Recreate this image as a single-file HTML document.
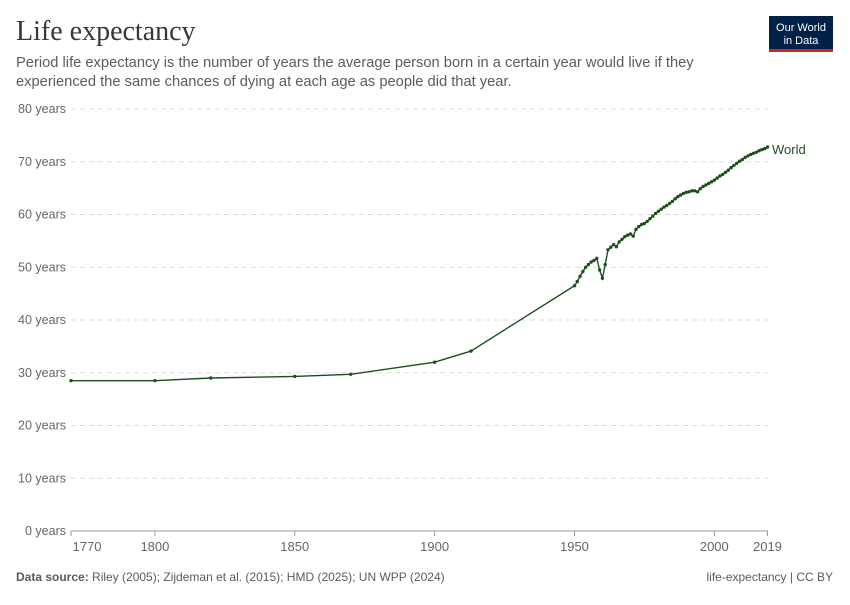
<!DOCTYPE html>
<html><head><meta charset="utf-8"><style>
body{margin:0;background:#fff;width:850px;height:600px;overflow:hidden;font-family:"Liberation Sans",sans-serif}
</style></head><body>
<svg id="s" width="850" height="600" xmlns="http://www.w3.org/2000/svg" font-family="Liberation Sans, sans-serif">
<text x="16" y="40" font-family="Liberation Serif, serif" font-size="28" fill="#383838">Life expectancy</text>
<text x="16" y="67" font-size="14.7" fill="#5b5b5b">Period life expectancy is the number of years the average person born in a certain year would live if they</text>
<text x="16" y="86" font-size="14.7" fill="#5b5b5b">experienced the same chances of dying at each age as people did that year.</text>
<rect x="769" y="16" width="64" height="34" fill="#002147"/>
<rect x="769" y="49" width="64" height="3" fill="#ce261e"/>
<text x="801" y="31" font-size="11" fill="#fff" text-anchor="middle">Our World</text>
<text x="801" y="44" font-size="11" fill="#fff" text-anchor="middle">in Data</text>
<g id="grid"></g>
<path id="line" fill="none" stroke="#1d4f1d" stroke-width="1.4"/>
<g id="dots" fill="#1d4f1d"></g>
<text x="772" y="154" font-size="13" fill="#1d4f1d">World</text>
<text x="16" y="581" font-size="12" fill="#5b5b5b"><tspan font-weight="bold">Data source:</tspan> Riley (2005); Zijdeman et al. (2015); HMD (2025); UN WPP (2024)</text>
<text x="833" y="581" font-size="12" fill="#5b5b5b" text-anchor="end">life-expectancy | CC BY</text>
</svg>
<script>
var X=function(y){return 71+(y-1770)*2.797},Y=function(v){return 531-v*5.275};
var g='';
for(var v=0;v<=80;v+=10){var y=Y(v);
 if(v>0)g+='<line x1="71" x2="768" y1="'+y+'" y2="'+y+'" stroke="#ddd" stroke-dasharray="5,4"/>';
 g+='<text x="66" y="'+(y+4)+'" font-size="12.5" fill="#666" text-anchor="end">'+v+' years</text>';}
g+='<line x1="71" x2="768" y1="531" y2="531" stroke="#999"/>';
[1770,1800,1850,1900,1950,2000,2019].forEach(function(t){var x=X(t);
 g+='<line x1="'+x+'" x2="'+x+'" y1="531" y2="536" stroke="#999"/>';
 g+='<text x="'+(t==1770?x+16:x)+'" y="551" font-size="13" fill="#666" text-anchor="middle">'+t+'</text>';});
document.getElementById('grid').innerHTML=g;
var d=[[1770,28.5],[1800,28.5],[1820,29],[1850,29.3],[1870,29.7],[1900,32],[1913,34.1]];
var a=[46.5,47.3,48.3,49.2,50,50.5,51,51.3,51.7,49.5,47.9,50.5,53.3,53.8,54.3,53.9,54.8,55.3,55.8,56.1,56.3,55.9,57.2,57.7,58.1,58.3,58.7,59.2,59.7,60.2,60.6,61,61.4,61.7,62.1,62.5,63,63.4,63.7,64,64.2,64.3,64.5,64.5,64.3,64.9,65.3,65.6,65.9,66.2,66.5,66.9,67.3,67.6,68,68.4,68.9,69.3,69.7,70.1,70.4,70.8,71.1,71.4,71.6,71.8,72.1,72.3,72.5,72.8];
a.forEach(function(v,i){d.push([1950+i,v])});
var p='',c='';
d.forEach(function(q,i){var x=X(q[0]).toFixed(1),y=Y(q[1]).toFixed(1);p+=(i?'L':'M')+x+' '+y;c+='<circle cx="'+x+'" cy="'+y+'" r="1.7"/>';});
document.getElementById('line').setAttribute('d',p);
document.getElementById('dots').innerHTML=c;
</script>
</body></html>
